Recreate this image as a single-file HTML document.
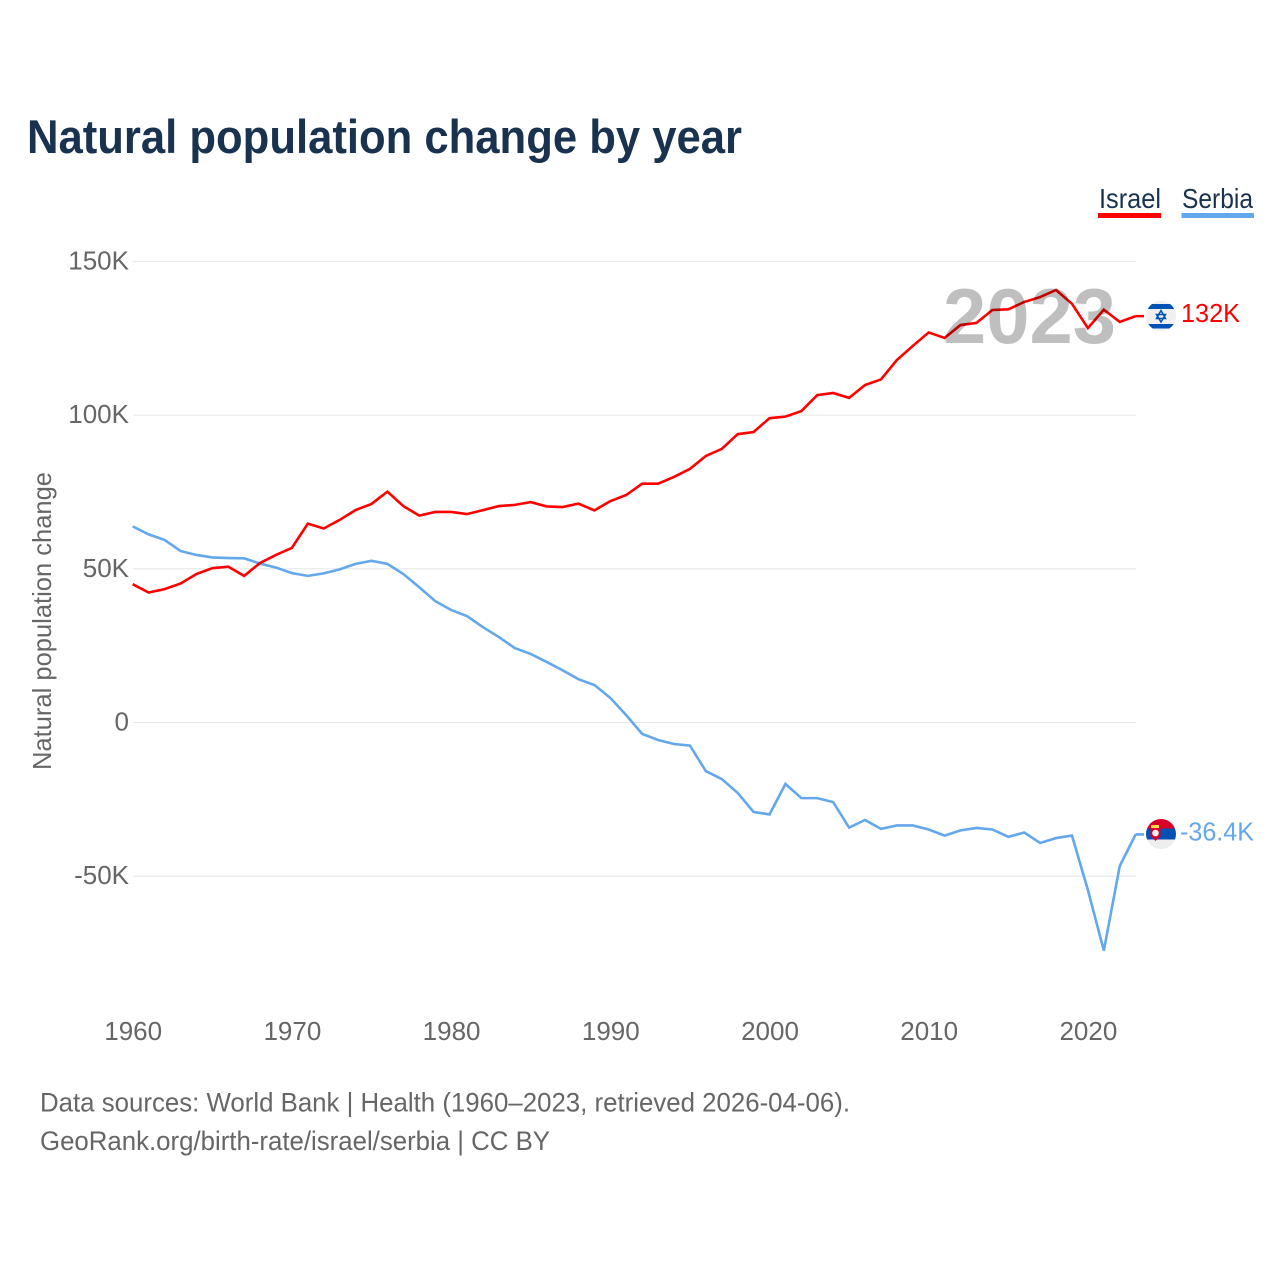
<!DOCTYPE html>
<html lang="en">
<head>
<meta charset="utf-8">
<title>Natural population change by year</title>
<style>
html,body{margin:0;padding:0;background:#fff;}
svg{display:block;font-family:"Liberation Sans",sans-serif;}
</style>
</head>
<body>
<svg id="chart" xmlns="http://www.w3.org/2000/svg" width="1280" height="1280" viewBox="0 0 1280 1280">
  <defs>
    <clipPath id="israel-clip"><circle cx="1161" cy="316" r="15"/></clipPath>
    <clipPath id="serbia-clip"><circle cx="1161" cy="834" r="15"/></clipPath>
  </defs>
  <rect width="1280" height="1280" fill="#fff"/>
  <text x="27" y="153" font-size="47" font-weight="700" fill="#18324f" textLength="715" lengthAdjust="spacingAndGlyphs">Natural population change by year</text>

  <g>
    <text x="1099" y="208" font-size="28" fill="#18324f" textLength="62" lengthAdjust="spacingAndGlyphs">Israel</text>
    <rect x="1098" y="213" width="63" height="5" fill="#ff0000"/>
  </g>
  <g>
    <text x="1182" y="208" font-size="28" fill="#18324f" textLength="71" lengthAdjust="spacingAndGlyphs">Serbia</text>
    <rect x="1181.500" y="213" width="72.500" height="5" fill="#63a7ec"/>
  </g>

  <text transform="translate(51,621) rotate(-90)" text-anchor="middle" font-size="26" fill="#666" textLength="298" lengthAdjust="spacingAndGlyphs">Natural population change</text>

  <g id="grid"></g>
  <g id="y-ticks"></g>
  <g id="x-ticks"></g>
  <g id="series"></g>

  <text x="943" y="343" font-size="78" font-weight="700" fill="#000" fill-opacity="0.25" textLength="173" lengthAdjust="spacingAndGlyphs">2023</text>

  <g clip-path="url(#israel-clip)">
    <rect x="1146" y="301" width="30" height="30" fill="#f0f0f0"/>
    <rect x="1146" y="304" width="30" height="5" fill="#0052b4"/>
    <rect x="1146" y="324" width="30" height="4.500" fill="#0052b4"/>
    <polygon points="1161,310.500 1165.500,318.500 1156.500,318.500" fill="none" stroke="#0052b4" stroke-width="1.500"/>
    <polygon points="1161,322 1165.500,314.500 1156.500,314.500" fill="none" stroke="#0052b4" stroke-width="1.500"/>
  </g>
  <g clip-path="url(#serbia-clip)">
    <rect x="1146" y="819" width="30" height="30" fill="#eeeeee"/>
    <rect x="1146" y="819" width="30" height="9.500" fill="#d80027"/>
    <rect x="1146" y="828.500" width="30" height="11" fill="#0052b4"/>
    <rect x="1151" y="825" width="8" height="3" fill="#ffda44"/>
    <path d="M1150.500 828h10v8l-5 5-5-5z" fill="#d80027"/>
    <circle cx="1155.500" cy="833" r="3.300" fill="#f0f0f0"/>
  </g>

  <text id="label-israel" x="1181" y="322" font-size="26" fill="#ff0000" textLength="59" lengthAdjust="spacingAndGlyphs">132K</text>
  <text id="label-serbia" x="1180" y="840.500" font-size="26" fill="#63a7ec" textLength="74" lengthAdjust="spacingAndGlyphs">-36.4K</text>

  <text x="40" y="1111.500" font-size="27" fill="#666" textLength="810" lengthAdjust="spacingAndGlyphs">Data sources: World Bank | Health (1960–2023, retrieved 2026-04-06).</text>
  <text x="40" y="1150" font-size="27" fill="#666" textLength="510" lengthAdjust="spacingAndGlyphs">GeoRank.org/birth-rate/israel/serbia | CC BY</text>
</svg>
<script>
var startYear = 1960;
var israelValues = [45,42.3,43.4,45.2,48.3,50.2,50.7,47.7,51.9,54.5,56.8,64.7,63.1,65.9,69.1,71.1,75.1,70.4,67.3,68.5,68.5,67.8,69.1,70.4,70.8,71.7,70.3,70.1,71.2,69,72,74,77.7,77.7,79.9,82.5,86.7,89,93.8,94.5,99,99.5,101.3,106.5,107.2,105.6,109.8,111.6,117.9,122.5,126.9,125.1,129.3,130,134.2,134.4,136.8,138.4,140.7,136.2,128.3,134.3,130.3,132.2];
var serbiaValues = [63.8,61.2,59.4,55.8,54.5,53.7,53.5,53.4,51.7,50.4,48.6,47.7,48.5,49.8,51.6,52.6,51.6,48.3,44,39.5,36.6,34.6,31,27.8,24.2,22.3,19.7,17,14.1,12.2,8,2.4,-3.7,-5.7,-7,-7.5,-15.8,-18.4,-22.9,-29.1,-29.9,-20,-24.6,-24.6,-25.9,-34.2,-31.7,-34.6,-33.5,-33.5,-34.8,-36.8,-35.1,-34.3,-34.8,-37.2,-35.8,-39.2,-37.6,-36.8,-54.5,-74.2,-46.7,-36.4];
var yTickValues = [150,100,50,0,-50];
var yTickLabels = ["150K","100K","50K","0","-50K"];
var xTickYears = [1960,1970,1980,1990,2000,2010,2020];

var NS = "http://www.w3.org/2000/svg";
function xScale(year) { return 132.7 + (year - 1960) * 15.92; }
function yScale(value) { return 722.5 - value * 3.074; }
function make(tag, parent) {
  var el = document.createElementNS(NS, tag);
  parent.appendChild(el);
  return el;
}

var gridGroup = document.getElementById("grid");
var yGroup = document.getElementById("y-ticks");
yTickValues.forEach(function (v, i) {
  var line = make("line", gridGroup);
  
  
  line.setAttribute("x1", 133);
  line.setAttribute("x2", 1136);
  line.setAttribute("y1", yScale(v));
  line.setAttribute("y2", yScale(v));
  line.setAttribute("stroke", "#e6e6e6");
  line.setAttribute("stroke-width", 1);
  var t = make("text", yGroup);
  
  
  t.setAttribute("x", 129);
  t.setAttribute("y", yScale(v) + 8);
  t.setAttribute("text-anchor", "end");
  t.setAttribute("font-size", 26);
  t.setAttribute("fill", "#666");
  t.textContent = yTickLabels[i];
});

var xGroup = document.getElementById("x-ticks");
xTickYears.forEach(function (year) {
  var t = make("text", xGroup);
  
  
  t.setAttribute("x", xScale(year) + 0.5);
  t.setAttribute("y", 1040);
  t.setAttribute("text-anchor", "middle");
  t.setAttribute("font-size", 26);
  t.setAttribute("fill", "#666");
  t.textContent = String(year);
});

var seriesGroup = document.getElementById("series");
function pathFor(values) {
  return values.map(function (v, i) {
    return (i ? "L" : "M") + xScale(startYear + i).toFixed(2) + " " + yScale(v).toFixed(2);
  }).join(" ");
}
function stubFor(values) {
  var last = values.length - 1;
  var y = yScale(values[last]).toFixed(2);
  return "M" + xScale(startYear + last).toFixed(2) + " " + y + " L1144 " + y;
}

var serbiaLine = make("path", seriesGroup);


serbiaLine.setAttribute("d", pathFor(serbiaValues) + " " + stubFor(serbiaValues));
serbiaLine.setAttribute("fill", "none");
serbiaLine.setAttribute("stroke", "#63a7ec");
serbiaLine.setAttribute("stroke-width", 2.6);

var israelLine = make("path", seriesGroup);


israelLine.setAttribute("d", pathFor(israelValues) + " " + stubFor(israelValues));
israelLine.setAttribute("fill", "none");
israelLine.setAttribute("stroke", "#ff0000");
israelLine.setAttribute("stroke-width", 2.6);
</script>
</body>
</html>
